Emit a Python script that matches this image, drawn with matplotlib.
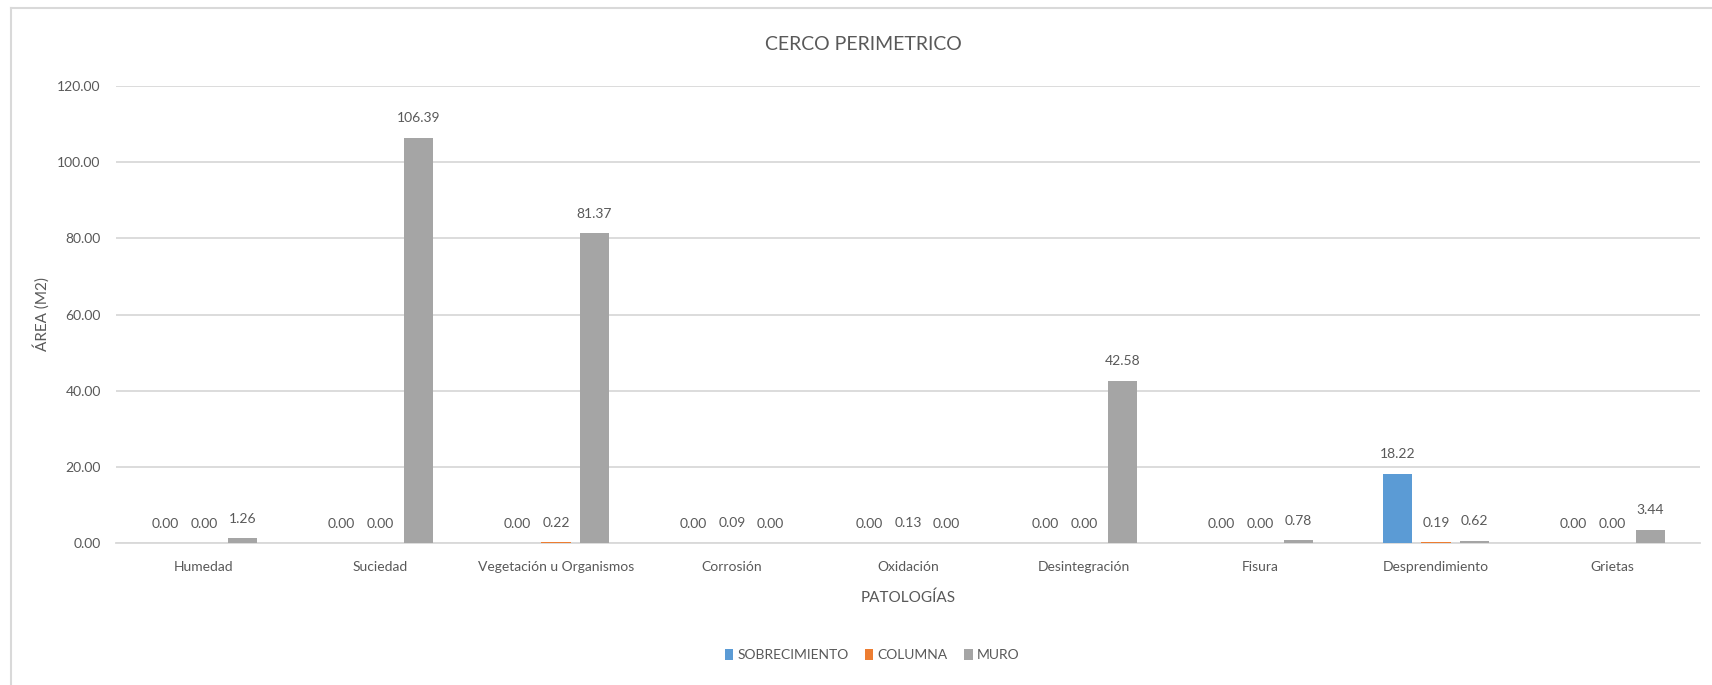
import matplotlib
matplotlib.use("Agg")
import matplotlib.pyplot as plt
from matplotlib.lines import Line2D
from matplotlib.patches import Patch
import numpy as np

categories = ["Humedad", "Suciedad", "Vegetación u Organismos", "Corrosión", "Oxidación",
              "Desintegración", "Fisura", "Desprendimiento", "Grietas"]
series_names = ["SOBRECIMIENTO", "COLUMNA", "MURO"]
sobrecimiento = [0.00, 0.00, 0.00, 0.00, 0.00, 0.00, 0.00, 18.22, 0.00]
columna = [0.00, 0.00, 0.22, 0.09, 0.13, 0.00, 0.00, 0.19, 0.00]
muro = [1.26, 106.39, 81.37, 0.00, 0.00, 42.58, 0.78, 0.62, 3.44]
y_ticks = [0, 20, 40, 60, 80, 100, 120]

colors = ["#5B9BD5", "#ED7D31", "#A5A5A5"]
text_color = "#595959"
grid_color = "#D9D9D9"

plt.rcParams['font.family'] = ['Lato', 'DejaVu Sans']

W, H = 1712, 685
fig = plt.figure(figsize=(W / 100, H / 100), dpi=100)
fig.patch.set_facecolor("white")

ax = fig.add_axes([116 / W, (H - 543) / H, (1700 - 116) / W, (543 - 86) / H])

x = np.arange(len(categories))
bw = 0.165
off = 0.219
data = [sobrecimiento, columna, muro]
for i, (vals, name, c) in enumerate(zip(data, series_names, colors)):
    pos = x + (i - 1) * off
    ax.bar(pos, vals, width=bw, color=c, label=name, zorder=3)
    for p, v in zip(pos, vals):
        ax.annotate(f"{v:.2f}", (p, v), xytext=(0, 14), textcoords="offset points",
                    ha="center", va="center", fontsize=10, color=text_color)

ax.set_xlim(-0.5, len(categories) - 0.5)
ax.set_ylim(0, 120)
ax.set_yticks(y_ticks)
ax.set_yticklabels([f"{t:.2f}" for t in y_ticks])
ax.set_xticks(x)
ax.set_xticklabels(categories)
ax.tick_params(axis="both", length=0, colors=text_color, labelsize=10)
ax.tick_params(axis="y", pad=11)
ax.tick_params(axis="x", pad=13)
ax.grid(axis="y", color=grid_color, linewidth=1.3, zorder=0)
for s in ["top", "right", "left"]:
    ax.spines[s].set_visible(False)
ax.spines["bottom"].set_color(grid_color)
ax.spines["bottom"].set_linewidth(1.3)

fig.text(863 / W, (H - 44) / H, "CERCO PERIMETRICO", ha="center", va="center",
         fontsize=14, color=text_color)
fig.text(41 / W, (H - 314) / H, "ÁREA (M2)", ha="center", va="center", rotation=90,
         fontsize=11, color=text_color)
fig.text(908 / W, (H - 598) / H, "PATOLOGÍAS", ha="center", va="center",
         fontsize=11, color=text_color)

handles = [Patch(facecolor=c, label=n) for c, n in zip(colors, series_names)]
fig.legend(handles=handles, loc="center", bbox_to_anchor=(872 / W, (H - 655) / H),
           ncol=3, frameon=False, fontsize=10, handlelength=0.6, handleheight=0.8,
           handletextpad=0.3, columnspacing=1.2, labelcolor=text_color)

# chart frame (top and left edges visible in the cropped screenshot)
fig.add_artist(Line2D([11 / W, 1.0], [(H - 8) / H, (H - 8) / H], color=grid_color,
                      linewidth=1.5, transform=fig.transFigure))
fig.add_artist(Line2D([11 / W, 11 / W], [0, (H - 8) / H], color=grid_color,
                      linewidth=1.5, transform=fig.transFigure))

fig.savefig("out.png", dpi=100, facecolor="white")
